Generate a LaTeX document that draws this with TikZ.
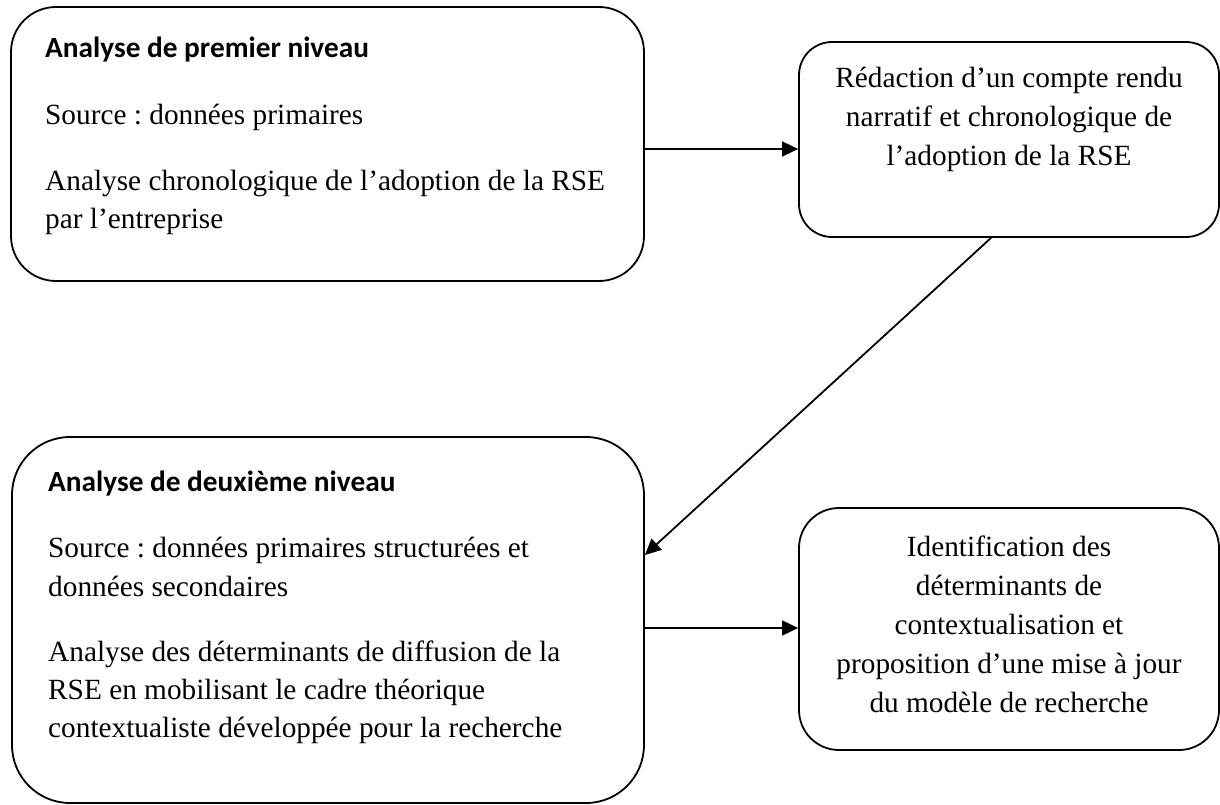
\documentclass[tikz,border=0pt]{standalone}
\usepackage{fontspec}
\setmainfont{Liberation Serif}
\newfontfamily\headfont{Carlito}
\usetikzlibrary{arrows.meta}
\frenchspacing
\begin{document}
\begin{tikzpicture}[x=1pt,y=-1pt,
  box/.style={draw, line width=1.8pt, inner sep=0pt},
  body/.style={font=\fontsize{29.3}{39}\selectfont, inner sep=0pt, anchor=base west},
  bodyc/.style={font=\fontsize{29.3}{39}\selectfont, inner sep=0pt, anchor=base},
  head/.style={font=\headfont\bfseries\fontsize{29.3}{39}\selectfont, inner sep=0pt, anchor=base west},
  link/.style={-{Triangle[length=16pt,width=15pt]}, line width=1.8pt}]
\useasboundingbox (0,0) rectangle (1220,805);

% the four rounded boxes
\node[box, rounded corners=45pt, minimum width=633pt, minimum height=274pt] (b1) at (327.5,144) {};
\node[box, rounded corners=33pt, minimum width=420pt, minimum height=195pt] (b2) at (1009,139.5) {};
\node[box, rounded corners=58pt, minimum width=632pt, minimum height=366pt] (b3) at (328,620) {};
\node[box, rounded corners=40pt, minimum width=420pt, minimum height=242pt] (b4) at (1009,629) {};

% first-level analysis
\node[head] (t1h) at (45,58) {Analyse de premier niveau};
\node[body] (t1a) at (45,125) {Source : données primaires};
\node[body] (t1b) at (45,190) {Analyse chronologique de l’adoption de la RSE};
\node[body] (t1c) at (45,229) {par l’entreprise};

% narrative account
\node[bodyc] (t2a) at (1009,88) {Rédaction d’un compte rendu};
\node[bodyc] (t2b) at (1009,127) {narratif et chronologique de};
\node[bodyc] (t2c) at (1009,166) {l’adoption de la RSE};

% second-level analysis
\node[head] (t3h) at (48,491) {Analyse de deuxième niveau};
\node[body] (t3a) at (48,557) {Source : données primaires structurées et};
\node[body] (t3b) at (48,596) {données secondaires};
\node[body] (t3c) at (48,661) {Analyse des déterminants de diffusion de la};
\node[body] (t3d) at (48,699) {RSE en mobilisant le cadre théorique};
\node[body] (t3e) at (48,737) {contextualiste développée pour la recherche};

% identification of determinants
\node[bodyc] (t4a) at (1009,556) {Identification des};
\node[bodyc] (t4b) at (1009,595) {déterminants de};
\node[bodyc] (t4c) at (1009,634) {contextualisation et};
\node[bodyc] (t4d) at (1009,673) {proposition d’une mise à jour};
\node[bodyc] (t4e) at (1009,712) {du modèle de recherche};

% connectors
\draw[link] (b1.east |- 0,149) -- (b2.west |- 0,149);
\draw[link] (991,0 |- b2.south) -- (b3.east |- 0,555);
\draw[link] (b3.east |- 0,628) -- (b4.west |- 0,628);
\end{tikzpicture}
\end{document}
